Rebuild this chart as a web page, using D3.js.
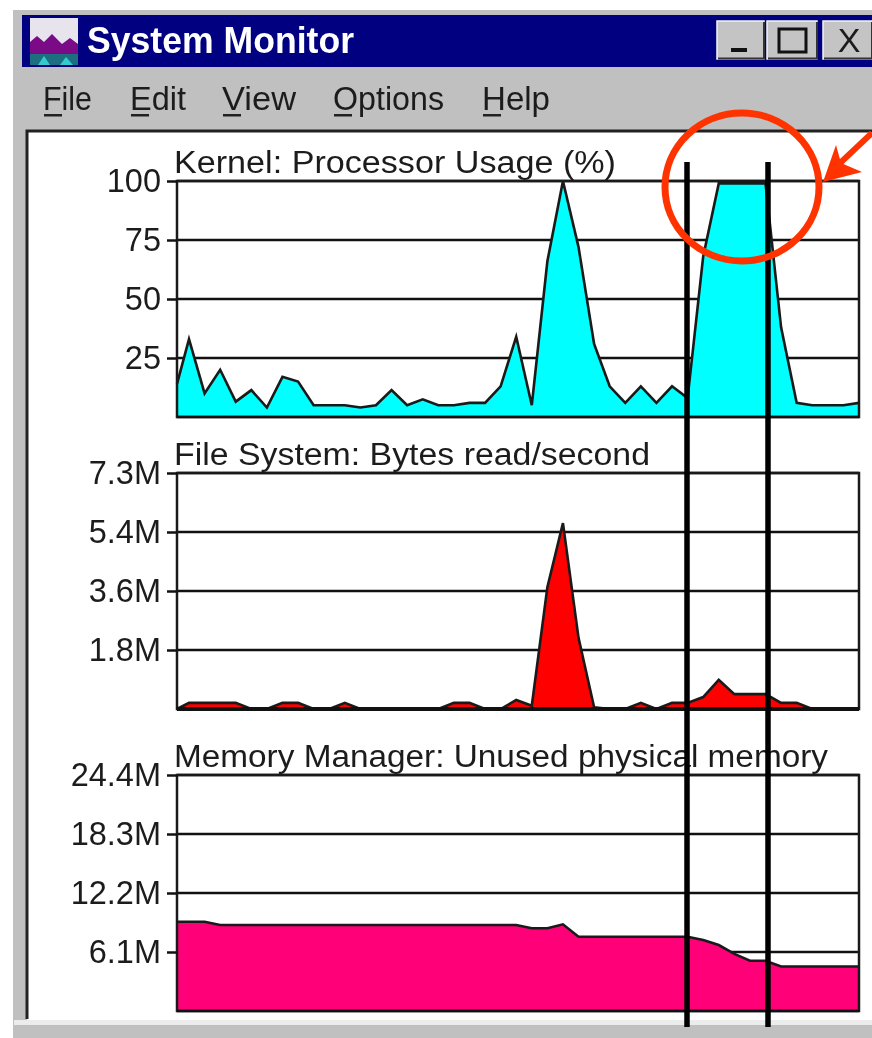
<!DOCTYPE html>
<html>
<head>
<meta charset="utf-8">
<title>System Monitor</title>
<script src="https://cdn.jsdelivr.net/npm/d3@7"></script>
<style>
  html, body { margin: 0; padding: 0; background: #fff; }
  svg { display: block; filter: blur(0.6px); }
  text { font-family: "Liberation Sans", Arial, sans-serif; fill: #1c1c1c; }
  .axis .domain { display: none; }
  .axis line { stroke: #111; stroke-width: 2.5; }
  .axis text { font-size: 32.5px; }
  .chart-title { font-size: 31px; }
  .menu-item { font-size: 33px; }
</style>
</head>
<body>
<div id="chart"></div>
<script>
/* ---------- data ---------- */

// sample clock, first sample is cut by the left edge of the plot
const SAMPLE_TIMES = [0].concat(d3.range(44).map((i) => i + 0.77));

const CPU_VALUES = [
  14, 33, 10, 20, 6.5, 11.4, 4, 17, 15, 5, 5, 5, 4, 5, 11.4, 5, 7.5, 5, 5, 6, 6, 13,
  34, 5, 66, 100, 72, 31, 13, 6, 13, 6, 13, 8, 68, 99, 99, 99, 99, 38, 6, 5, 5, 5, 6,
];
const DISK_VALUES = [
  0, 0.19, 0.19, 0.19, 0.19, 0, 0, 0.19, 0.19, 0, 0, 0.19, 0, 0, 0, 0, 0, 0, 0.19, 0.19,
  0, 0, 0.28, 0.1, 3.77, 5.75, 2.2, 0.05, 0, 0, 0.19, 0, 0.19, 0.19, 0.37, 0.9, 0.46,
  0.46, 0.46, 0.19, 0.19, 0, 0, 0, 0,
];
const MEMORY_VALUES = [
  9.23, 9.23, 9.23, 8.89, 8.89, 8.89, 8.89, 8.89, 8.89, 8.89, 8.89, 8.89, 8.89, 8.89,
  8.89, 8.89, 8.89, 8.89, 8.89, 8.89, 8.89, 8.89, 8.89, 8.55, 8.55, 8.96, 7.68, 7.68,
  7.68, 7.68, 7.68, 7.68, 7.68, 7.68, 7.34, 6.82, 5.9, 5.2, 5.2, 4.6, 4.6, 4.6, 4.6, 4.6, 4.6,
];

const CPU_TICKS = [25, 50, 75, 100];
const CPU_TICK_LABELS = ["25", "50", "75", "100"];
const DISK_TICKS = [1.825, 3.65, 5.475, 7.3];
const DISK_TICK_LABELS = ["1.8M", "3.6M", "5.4M", "7.3M"];
const MEMORY_TICKS = [6.1, 12.2, 18.3, 24.4];
const MEMORY_TICK_LABELS = ["6.1M", "12.2M", "18.3M", "24.4M"];

const MENU_ITEMS = ["File", "Edit", "View", "Options", "Help"];
const MENU_LEFT = [43, 130, 222, 333, 482];
const MENU_WIDTH = [49, 56, 74, 111, 68];

const WIDTH = 872;
const HEIGHT = 1038;
const PLOT_LEFT = 177;
const PLOT_RIGHT = 859;

const PANELS = [
  { title: "Kernel: Processor Usage (%)", titleWidth: 442, top: 181, bottom: 417, max: 100, values: CPU_VALUES, ticks: CPU_TICKS, labels: CPU_TICK_LABELS, fill: "#00ffff", bottomLine: 2.5 },
  { title: "File System: Bytes read/second", titleWidth: 476, top: 473, bottom: 709, max: 7.3, values: DISK_VALUES, ticks: DISK_TICKS, labels: DISK_TICK_LABELS, fill: "#ff0000", bottomLine: 4 },
  { title: "Memory Manager: Unused physical memory", titleWidth: 654, top: 775, bottom: 1011, max: 24.4, values: MEMORY_VALUES, ticks: MEMORY_TICKS, labels: MEMORY_TICK_LABELS, fill: "#ff0078", bottomLine: 2.5 },
];

const svg = d3.select("#chart").append("svg").attr("width", WIDTH).attr("height", HEIGHT);

const x = d3.scaleLinear().domain([0, 43.77]).range([PLOT_LEFT, PLOT_RIGHT]);

drawWindow();
PANELS.forEach(drawPanel);
drawAnnotations();

/* ---------- window frame, title bar, menu ---------- */
function drawWindow() {
  svg.append("rect").attr("x", 13).attr("y", 10).attr("width", WIDTH - 13).attr("height", HEIGHT - 10).attr("fill", "#c0c0c0");
  svg.append("rect").attr("x", 22).attr("y", 15).attr("width", WIDTH - 22).attr("height", 52).attr("fill", "#000080");

  // app icon
  const icon = svg.append("g").attr("transform", "translate(30,18)");
  icon.append("rect").attr("width", 48).attr("height", 47).attr("fill", "#e8e4ee");
  icon.append("polygon").attr("points", "0,24 7,18 14,24 22,16 32,26 40,20 48,26 48,38 0,38").attr("fill", "#7a0a86");
  icon.append("rect").attr("y", 36).attr("width", 48).attr("height", 11).attr("fill", "#1c6f80");
  icon.append("polygon").attr("points", "8,47 14,38 20,47 30,47 36,39 43,47").attr("fill", "#33cccc");

  svg.append("text")
    .attr("x", 87).attr("y", 53)
    .attr("textLength", 267).attr("lengthAdjust", "spacingAndGlyphs")
    .attr("font-size", 36).attr("font-weight", "bold")
    .style("fill", "#fff")
    .text("System Monitor");

  // caption buttons
  const buttons = [[717, 47], [767, 50], [823, 49]];
  buttons.forEach(([bx, bw]) => {
    svg.append("rect").attr("x", bx).attr("y", 21).attr("width", bw).attr("height", 38).attr("fill", "#c4c4c4").attr("stroke", "#f4f4f4").attr("stroke-width", 1.5);
    svg.append("path").attr("d", `M${bx + 1},58.5H${bx + bw}V22`).attr("fill", "none").attr("stroke", "#333").attr("stroke-width", 2);
  });
  svg.append("rect").attr("x", 731).attr("y", 48).attr("width", 16).attr("height", 4).attr("fill", "#111");
  svg.append("rect").attr("x", 779).attr("y", 29).attr("width", 27).attr("height", 23).attr("fill", "none").attr("stroke", "#111").attr("stroke-width", 3);
  svg.append("text").attr("x", 849).attr("y", 52).attr("text-anchor", "middle").attr("font-size", 34).text("X");

  // menu bar, first letter underlined like the accelerator keys
  MENU_ITEMS.forEach((item, i) => {
    const t = svg.append("text").attr("class", "menu-item")
      .attr("x", MENU_LEFT[i]).attr("y", 110)
      .attr("textLength", MENU_WIDTH[i]).attr("lengthAdjust", "spacingAndGlyphs");
    t.append("tspan").text(item);
    svg.append("rect").attr("x", MENU_LEFT[i] + 1).attr("y", 114).attr("width", 18).attr("height", 2.5).attr("fill", "#222");
  });

  // white client area with sunken edge
  svg.append("rect").attr("x", 27).attr("y", 131).attr("width", WIDTH - 27).attr("height", 889).attr("fill", "#fff");
  svg.append("path").attr("d", "M27,1019V131H872").attr("fill", "none").attr("stroke", "#222").attr("stroke-width", 3);
  svg.append("rect").attr("x", 14).attr("y", 1020).attr("width", WIDTH - 14).attr("height", 5).attr("fill", "#ececec");
}

/* ---------- one perfmon panel: grid, area, frame, axis ---------- */
function drawPanel(panel) {
  const y = d3.scaleLinear().domain([0, panel.max]).range([panel.bottom, panel.top]);
  const g = svg.append("g");

  g.selectAll(".grid")
    .data(panel.ticks)
    .join("line")
    .attr("class", "grid")
    .attr("x1", PLOT_LEFT).attr("x2", PLOT_RIGHT)
    .attr("y1", (d) => y(d)).attr("y2", (d) => y(d))
    .attr("stroke", "#111").attr("stroke-width", 2.5);

  const series = panel.values.map((v, i) => [SAMPLE_TIMES[i], v]);

  const area = d3.area().x((d) => x(d[0])).y0(panel.bottom).y1((d) => y(d[1]));
  const line = d3.line().x((d) => x(d[0])).y((d) => y(d[1]));

  g.append("path").datum(series).attr("d", area).attr("fill", panel.fill);
  g.append("path").datum(series).attr("d", line).attr("fill", "none").attr("stroke", "#1a1a1a").attr("stroke-width", 2.6);

  // frame
  g.append("rect")
    .attr("x", PLOT_LEFT).attr("y", panel.top)
    .attr("width", PLOT_RIGHT - PLOT_LEFT).attr("height", panel.bottom - panel.top)
    .attr("fill", "none").attr("stroke", "#1a1a1a").attr("stroke-width", 2.5);
  g.append("line")
    .attr("x1", PLOT_LEFT).attr("x2", PLOT_RIGHT)
    .attr("y1", panel.bottom).attr("y2", panel.bottom)
    .attr("stroke", "#111").attr("stroke-width", panel.bottomLine);

  g.append("g")
    .attr("class", "axis")
    .attr("transform", `translate(${PLOT_LEFT},0)`)
    .call(
      d3.axisLeft(y)
        .tickValues(panel.ticks)
        .tickSize(10)
        .tickPadding(6)
        .tickFormat((d, i) => panel.labels[i])
    );

  g.append("text")
    .attr("class", "chart-title")
    .attr("x", 174).attr("y", panel.top - 8)
    .attr("textLength", panel.titleWidth).attr("lengthAdjust", "spacingAndGlyphs")
    .text(panel.title);
}

/* ---------- hand-drawn markers on top of the screenshot ---------- */
function drawAnnotations() {
  [687, 768].forEach((lx) => {
    svg.append("line")
      .attr("x1", lx).attr("x2", lx).attr("y1", 162).attr("y2", 1027)
      .attr("stroke", "#000").attr("stroke-width", 5.5);
  });

  svg.append("ellipse")
    .attr("cx", 742).attr("cy", 187).attr("rx", 77).attr("ry", 74)
    .attr("fill", "none").attr("stroke", "#ff3300").attr("stroke-width", 7);

  svg.append("path")
    .attr("d", "M872,133L838,165")
    .attr("stroke", "#ff3300").attr("stroke-width", 6).attr("fill", "none");
  svg.append("polygon")
    .attr("points", "823,182 836,145 841,163 862,172")
    .attr("fill", "#ff3300");
}
</script>
</body>
</html>
